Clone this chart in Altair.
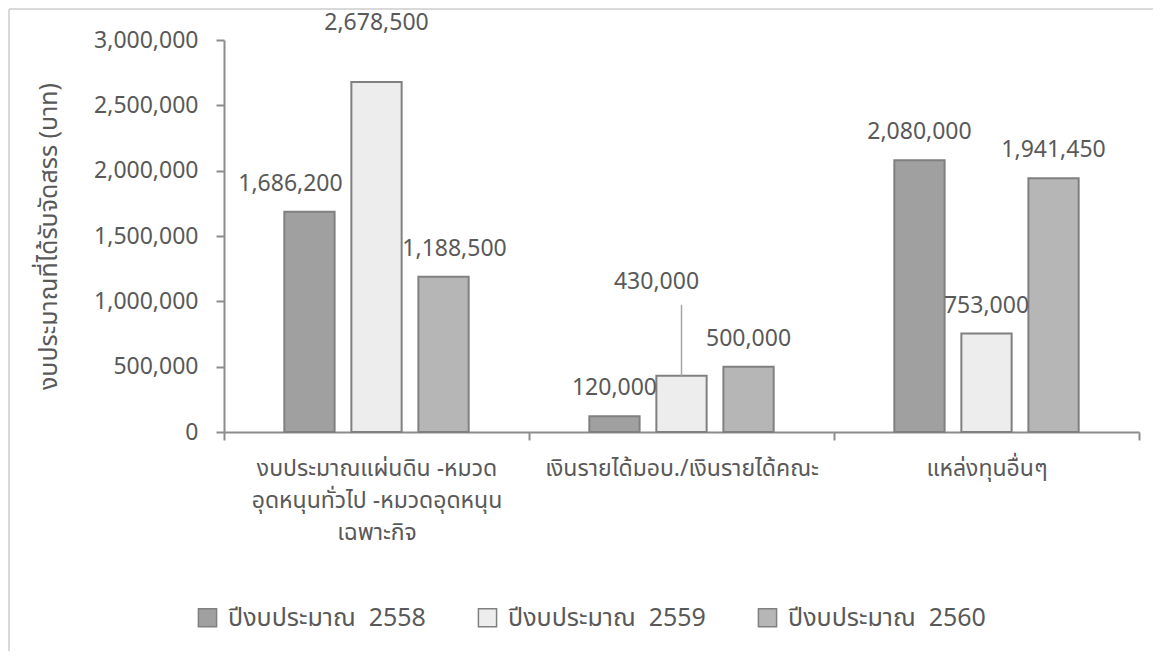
import altair as alt
import pandas as pd

categories = [
    "งบประมาณแผ่นดิน -หมวดอุดหนุนทั่วไป -หมวดอุดหนุนเฉพาะกิจ",
    "เงินรายได้มอบ./เงินรายได้คณะ",
    "แหล่งทุนอื่นๆ",
]
cat1_lines = ["งบประมาณแผ่นดิน -หมวด", "อุดหนุนทั่วไป -หมวดอุดหนุน", "เฉพาะกิจ"]
series = ["ปีงบประมาณ 2558", "ปีงบประมาณ 2559", "ปีงบประมาณ 2560"]
values_2558 = [1686200, 120000, 2080000]
values_2559 = [2678500, 430000, 753000]
values_2560 = [1188500, 500000, 1941450]
y_ticks = [0, 500000, 1000000, 1500000, 2000000, 2500000, 3000000]

rows = []
for s, vals in zip(series, [values_2558, values_2559, values_2560]):
    for c, v in zip(categories, vals):
        rows.append({"category": c, "series": s, "value": v})
df = pd.DataFrame(rows)

FONT = "Noto Sans Thai, Leelawadee UI, Tahoma, Noto Sans, sans-serif"
TXT = "#595959"
AX = "#8c8c8c"
fills = ["#a0a0a0", "#ededed", "#b6b6b6"]
FS = 23

label_expr = (
    "datum.label == '" + categories[0] + "' ? ['" + "','".join(cat1_lines) + "'] : datum.label"
)

# manually nudged data labels (as in the original chart): (category index, series index, dx, dy)
nudges = [(0, 0, -19, -28), (0, 1, 0, -59), (0, 2, 11, -28), (1, 1, -25, -94)]

base = alt.Chart(df)

bars = base.mark_bar(stroke="#808080", strokeWidth=2).encode(
    x=alt.X(
        "category:N",
        sort=categories,
        title=None,
        scale=alt.Scale(paddingInner=0, paddingOuter=0),
        axis=alt.Axis(
            labelAngle=0,
            tickBand="extent",
            grid=False,
            labelExpr=label_expr,
            labelFont=FONT,
            labelFontSize=FS,
            labelColor=TXT,
            labelLineHeight=32,
            labelPadding=17,
            labelBaseline="top",
            labelLimit=0,
            tickSize=8,
            tickColor=AX,
            tickWidth=2,
            domainColor=AX,
            domainWidth=2,
        ),
    ),
    xOffset=alt.XOffset("series:N", sort=series, scale=alt.Scale(paddingInner=0.25, paddingOuter=0.9)),
    y=alt.Y(
        "value:Q",
        title="งบประมาณที่ได้รับจัดสรร  (บาท)",
        scale=alt.Scale(domain=[0, 3000000]),
        axis=alt.Axis(
            values=y_ticks,
            format=",d",
            grid=False,
            labelFont=FONT,
            labelFontSize=FS,
            labelColor=TXT,
            labelPadding=18,
            tickSize=8,
            tickColor=AX,
            tickWidth=2,
            domainColor=AX,
            domainWidth=2,
            titleFont=FONT,
            titleFontSize=25,
            titleFontWeight="normal",
            titleColor=TXT,
            titlePadding=32,
        ),
    ),
    fill=alt.Fill(
        "series:N",
        sort=series,
        scale=alt.Scale(domain=series, range=fills),
        legend=alt.Legend(
            title=None,
            orient="none",
            direction="horizontal",
            legendX=-29,
            legendY=565,
            symbolType="square",
            symbolSize=330,
            symbolStrokeColor="#808080",
            symbolStrokeWidth=1.5,
            labelFont=FONT,
            labelFontSize=25,
            labelColor=TXT,
            labelLimit=0,
            labelExpr="replace(datum.label, ' ', '\u00a0\u00a0')",
            columnPadding=49,
            labelOffset=8,
        ),
    ),
)

x_enc = alt.X("category:N", sort=categories)
xo_enc = alt.XOffset("series:N", sort=series)
text_enc = alt.Text("value:Q", format=",d")

special = None
for ci, si, _, _ in nudges:
    cond = (alt.datum.category == categories[ci]) & (alt.datum.series == series[si])
    special = cond if special is None else (special | cond)

labels = (
    base.transform_filter(~special)
    .mark_text(font=FONT, fontSize=FS, color=TXT, dy=-28, baseline="middle")
    .encode(x=x_enc, xOffset=xo_enc, y="value:Q", text=text_enc)
)

layers = [bars, labels]
for ci, si, dx, dy in nudges:
    sel = (alt.datum.category == categories[ci]) & (alt.datum.series == series[si])
    layers.append(
        base.transform_filter(sel)
        .mark_text(font=FONT, fontSize=FS, color=TXT, dx=dx, dy=dy, baseline="middle")
        .encode(x=x_enc, xOffset=xo_enc, y="value:Q", text=text_enc)
    )
    if dy < -60:
        layers.append(
            base.transform_filter(sel)
            .mark_rule(color="#a6a6a6", strokeWidth=1.5, y2Offset=dy + 23)
            .encode(x=x_enc, xOffset=xo_enc, y="value:Q", y2="value:Q")
        )

frame_left = alt.Chart(df).mark_rule(color="#d9d9d9", strokeWidth=2).encode(
    x=alt.value(-215), y=alt.value(-31), y2=alt.value(700)
)
frame_top = alt.Chart(df).mark_rule(color="#d9d9d9", strokeWidth=2).encode(
    x=alt.value(-215), x2=alt.value(1000), y=alt.value(-31)
)

chart = (
    alt.layer(frame_left, frame_top, *layers)
    .properties(
        width=915,
        height=392,
        background="white",
        autosize=alt.AutoSizeParams(type="none"),
        padding={"left": 216, "top": 32, "right": 14, "bottom": 219},
    )
    .configure_view(stroke=None)
)

chart.save("out.html", embed_options={"renderer": "svg", "actions": False})
